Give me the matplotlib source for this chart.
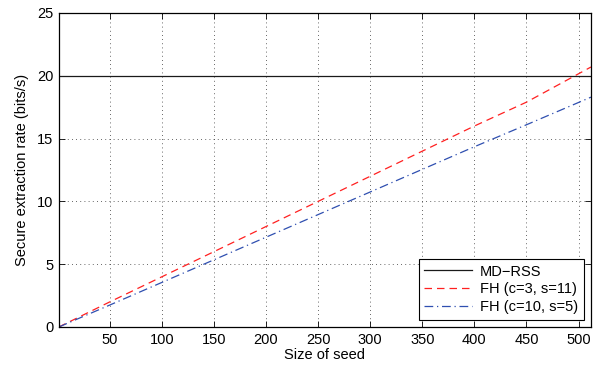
import matplotlib
matplotlib.use("Agg")
import matplotlib.pyplot as plt

plt.rcParams['font.family'] = ['Liberation Sans', 'DejaVu Sans']

seed = [1, 50, 100, 150, 200, 250, 300, 350, 400, 450, 512]
md_rss = [20.0, 20.0, 20.0, 20.0, 20.0, 20.0, 20.0, 20.0, 20.0, 20.0, 20.0]
fh_c3 = [0.0, 2.0, 4.0, 6.0, 8.0, 10.0, 12.0, 14.0, 16.0, 17.9, 20.7]
fh_c10 = [0.0, 1.75, 3.55, 5.35, 7.15, 8.95, 10.75, 12.55, 14.35, 16.1, 18.3]

xticks = [50, 100, 150, 200, 250, 300, 350, 400, 450, 500]
yticks = [0, 5, 10, 15, 20, 25]

FS = 10.5

fig = plt.figure(figsize=(6.0, 3.71), dpi=100)
ax = fig.add_axes([0.098, 0.1186, 0.887, 0.8464])

ax.plot(seed, md_rss, color='#1a1a1a', lw=0.9, label='MD\u2212RSS')
ax.plot(seed, fh_c3, color='#ff2020', lw=0.9, ls=(0, (6, 4)), label='FH (c=3, s=11)')
ax.plot(seed, fh_c10, color='#2f4fb0', lw=0.9, ls=(0, (7, 3, 1, 3)), label='FH (c=10, s=5)')

ax.set_xlim(1, 512)
ax.set_ylim(0, 25)
ax.set_xticks(xticks)
ax.set_yticks(yticks)
ax.tick_params(direction='in', top=True, right=True, labelsize=FS, length=4, width=0.6, pad=4)
ax.grid(True, ls=(0, (1, 4)), color='#333333', lw=0.6)
for s in ax.spines.values():
    s.set_linewidth(0.9)

ax.set_xlabel('Size of seed', fontsize=FS, labelpad=1)
ax.set_ylabel('Secure extraction rate (bits/s)', fontsize=FS, labelpad=6)

leg = ax.legend(loc='lower right', fontsize=FS, fancybox=False, framealpha=1,
                edgecolor='black', borderaxespad=0.5, handlelength=3.3,
                labelspacing=0.25, borderpad=0.4, handletextpad=0.5)
leg.get_frame().set_linewidth(0.8)

fig.savefig('out.png', dpi=100)
